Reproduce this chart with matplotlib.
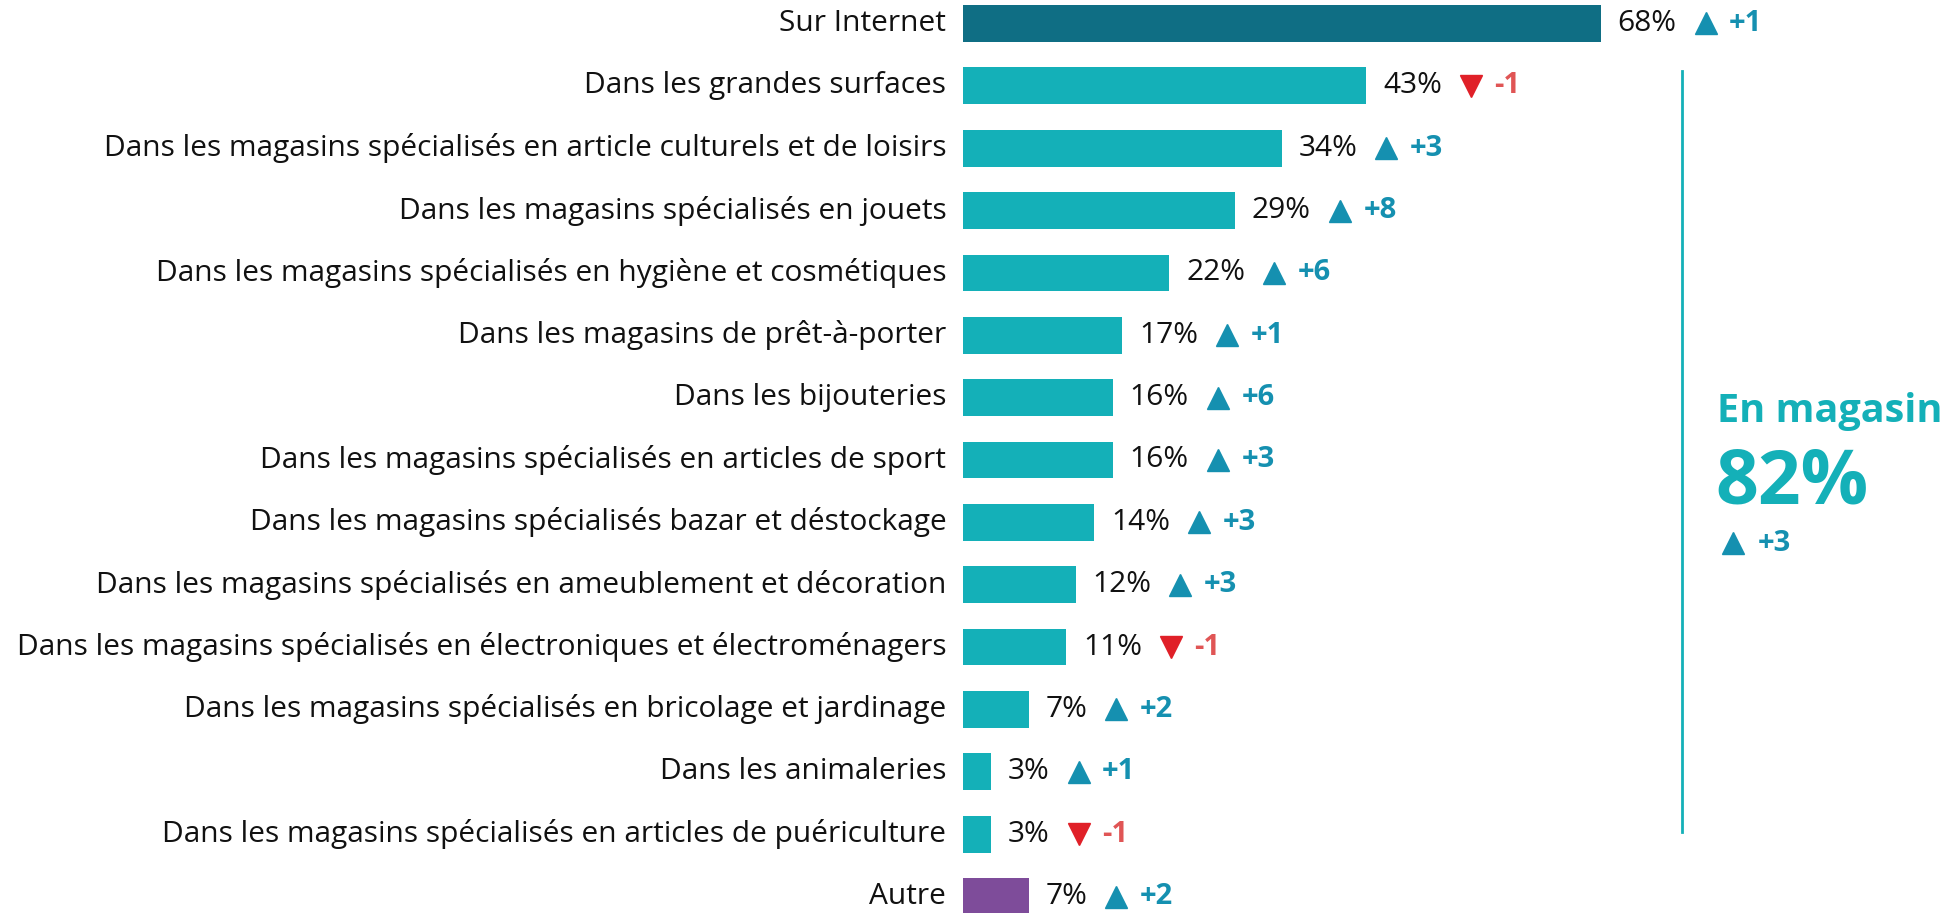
import matplotlib
matplotlib.use("Agg")
import matplotlib.pyplot as plt
from matplotlib.lines import Line2D

plt.rcParams['font.family'] = ['Open Sans', 'DejaVu Sans']

categories = [
    "Sur Internet",
    "Dans les grandes surfaces",
    "Dans les magasins spécialisés en article culturels et de loisirs",
    "Dans les magasins spécialisés en jouets",
    "Dans les magasins spécialisés en hygiène et cosmétiques",
    "Dans les magasins de prêt-à-porter",
    "Dans les bijouteries",
    "Dans les magasins spécialisés en articles de sport",
    "Dans les magasins spécialisés bazar et déstockage",
    "Dans les magasins spécialisés en ameublement et décoration",
    "Dans les magasins spécialisés en électroniques et électroménagers",
    "Dans les magasins spécialisés en bricolage et jardinage",
    "Dans les animaleries",
    "Dans les magasins spécialisés en articles de puériculture",
    "Autre",
]
values = [68, 43, 34, 29, 22, 17, 16, 16, 14, 12, 11, 7, 3, 3, 7]
changes = [1, -1, 3, 8, 6, 1, 6, 3, 3, 3, -1, 2, 1, -1, 2]
store_total = 82
store_change = 3

DARK = "#0F6E84"
TEAL = "#14B0B8"
PURPLE = "#7E4C9A"
UP = "#1590B0"
DOWN = "#E02028"
DOWN_TXT = "#E05555"

W, H = 1954, 913
fig = plt.figure(figsize=(W / 100, H / 100), dpi=100)
x0 = 963
px_per_pct = 9.38
ax = fig.add_axes([x0 / W, 0, 1 - x0 / W, 1])
ax.set_xlim(0, (W - x0) / px_per_pct)
step = 62.4
ax.set_ylim(14 + (H - 896.5) / step, -23.5 / step)
ax.axis("off")

colors = [DARK] + [TEAL] * 13 + [PURPLE]
ypos = list(range(len(categories)))
ax.barh(ypos, values, height=0.59, color=colors)

for y, cat in zip(ypos, categories):
    ax.annotate(cat, (0, y), xytext=(-12, 0), textcoords="offset points",
                ha="right", va="center", fontsize=21.5, color="#111111")

fig.canvas.draw()
r = fig.canvas.get_renderer()
inv = ax.transData.inverted()
for y, v, c in zip(ypos, values, changes):
    t = ax.annotate(f"{v}%", (v, y), xytext=(12, 0), textcoords="offset points",
                    ha="left", va="center", fontsize=21.5, color="#111111")
    bb = t.get_window_extent(r)
    tx = inv.transform((bb.x1 + 29, 0))[0]
    mk = "^" if c > 0 else "v"
    col = UP if c > 0 else DOWN
    tcol = UP if c > 0 else DOWN_TXT
    ax.plot(tx, y, marker=mk, markersize=16, color=col, linestyle="none")
    ax.annotate(f"{c:+d}", (tx, y), xytext=(17, 0), textcoords="offset points",
                ha="left", va="center", fontsize=21, fontweight="bold", color=tcol)

# bracket line and store total
fig.add_artist(Line2D([1682 / W, 1682 / W], [1 - 71 / H, 1 - 832 / H], color=TEAL, lw=2))
fig.text(1717 / W, 1 - 411 / H, "En magasin", fontsize=28.5, fontweight="bold",
         color=TEAL, ha="left", va="center")
fig.text(1715 / W, 1 - 484 / H, f"{store_total}%", fontsize=54, fontweight="bold",
         color=TEAL, ha="left", va="center")
fig.add_artist(Line2D([1733 / W], [1 - 543 / H], marker="^", markersize=16,
                      color=UP, linestyle="none"))
fig.text(1758 / W, 1 - 543 / H, f"+{store_change}", fontsize=21, fontweight="bold",
         color=UP, ha="left", va="center")

fig.savefig("out.png", dpi=100)
